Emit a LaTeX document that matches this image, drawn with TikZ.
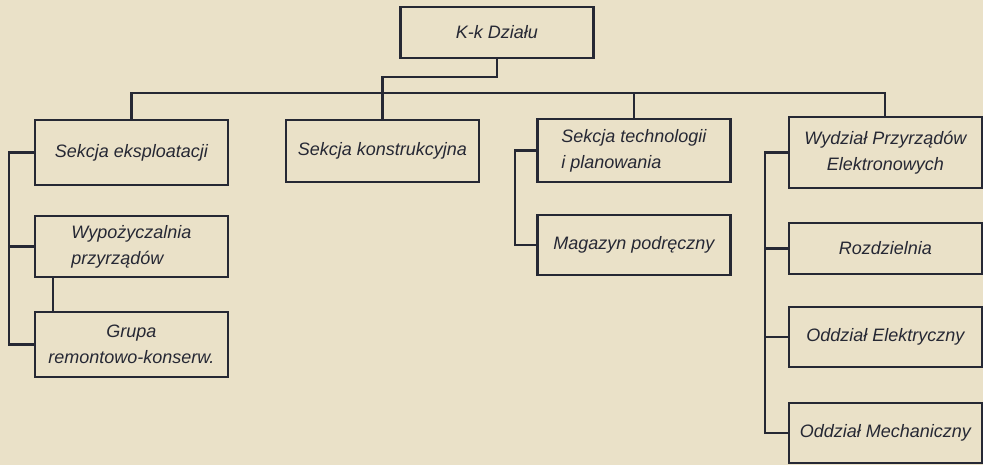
\documentclass[tikz,border=0pt]{standalone}
\usepackage{fontspec}
\setmainfont{Liberation Sans}
\definecolor{paper}{RGB}{234,225,200}
\definecolor{ink}{RGB}{38,40,52}
\begin{document}
\begin{tikzpicture}
[ x=1pt, y=-1pt, color=ink, line width=2.2pt
, point/.style={coordinate}
, unit/.style={rectangle, draw, fill=paper, line width=2.4pt, minimum width=193pt, inner sep=3pt, font=\fontsize{18}{26}\selectfont\itshape}
, wire/.style={line width=2.2pt}
]
\fill [paper] (0,0) rectangle (983,465);
% Top:
\node (head) [unit, minimum height=51pt] at (497,32.5) {K-k Działu};
% Second row:
\node (eksp) [unit, minimum height=65pt] at (131.5,152.5) {Sekcja eksploatacji};
\node (konstr) [unit, minimum height=62pt] at (382.5,151) {Sekcja konstrukcyjna};
\node (techn) [unit, minimum height=63pt, align=left] at (634,150.5) {Sekcja technologii\\i planowania};
\node (wydz) [unit, minimum height=71pt, align=center] at (885.5,152.5) {Wydział Przyrządów\\Elektronowych};
% Third row:
\node (wyp) [unit, minimum height=61pt, align=left] at (131.5,246.5) {Wypożyczalnia\\przyrządów};
\node (mag) [unit, minimum height=60pt] at (634,245) {Magazyn podręczny};
\node (rozdz) [unit, minimum height=51pt] at (885.5,248.5) {Rozdzielnia};
% Fourth row:
\node (grupa) [unit, minimum height=65pt, align=center] at (131.5,344.5) {Grupa\\remontowo-konserw.};
\node (elektr) [unit, minimum height=60pt] at (885.5,337) {Oddział Elektryczny};
% Fifth row:
\node (mech) [unit, minimum height=60pt] at (885.5,433) {Oddział Mechaniczny};
% Rails:
\node (bus) [point] at (0,93) {};
\node (jog) [point] at (0,77) {};
\node (rail1) [point] at (9,0) {};
\node (tie) [point] at (53,0) {};
\node (rail2) [point] at (515,0) {};
\node (rail3) [point] at (765,0) {};
\draw [wire] (head.south) -- (head.south |- jog) -| (konstr.north);
\draw [wire] (eksp.north) |- (bus -| wydz.north) -- (wydz.north);
\draw [wire] (techn.north) -- (techn.north |- bus);
\draw [wire] (eksp.west) -- (eksp.west -| rail1) |- (grupa.west);
\draw [wire] (wyp.west) -- (wyp.west -| rail1);
\draw [wire] (wyp.south -| tie) -- (grupa.north -| tie);
\draw [wire] (techn.west) -- (techn.west -| rail2) |- (mag.west);
\draw [wire] (wydz.west) -- (wydz.west -| rail3) |- (mech.west);
\draw [wire] (rozdz.west) -- (rozdz.west -| rail3);
\draw [wire] (elektr.west) -- (elektr.west -| rail3);
\end{tikzpicture}
\end{document}
